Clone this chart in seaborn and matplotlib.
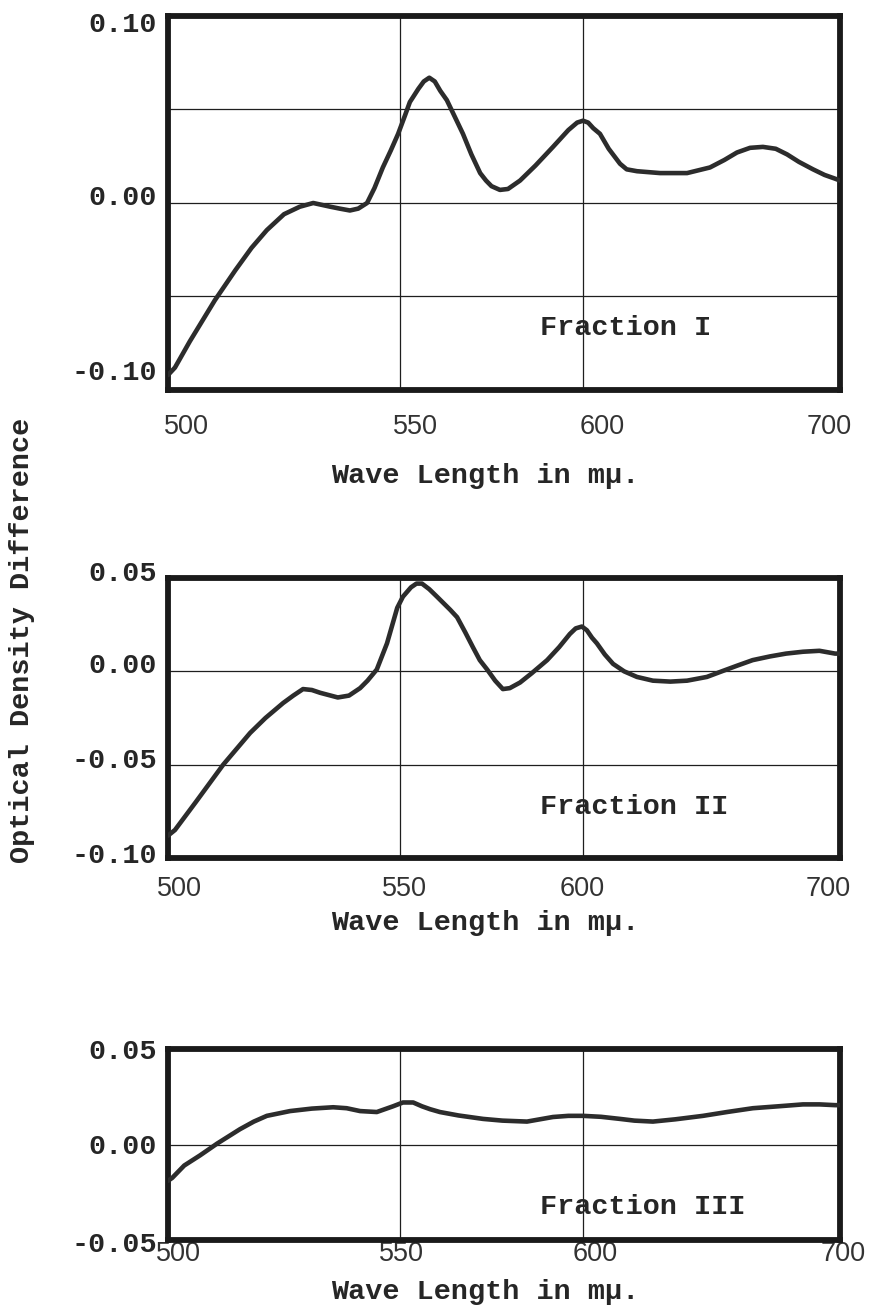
import numpy as np
import pandas as pd
import matplotlib
matplotlib.use("Agg")
import matplotlib.pyplot as plt
import seaborn as sns
from matplotlib.transforms import ScaledTranslation
from matplotlib.font_manager import FontProperties

# ---------------- data ----------------
wl1 = [500, 501.5, 504.7, 510.1, 514.5, 518, 521.3, 525, 528.4, 531.3, 535, 537, 539.2,
       541, 542.9, 544.5, 546.3, 548, 549.6, 551.4, 552.7, 555, 556.5, 558, 559.5, 561,
       562.8, 565, 567.2, 569.5, 571.9, 573.5, 575, 577.3, 579.5, 582.8, 587, 591.8, 596,
       598.4, 600, 602, 604, 606.6, 610, 614.4, 617, 621, 630, 640.5, 649.4, 655, 659.9,
       665, 670, 675, 679.4, 684, 689.5, 694, 698.1, 700]
od1 = [-0.092, -0.088, -0.074, -0.052, -0.036, -0.024, -0.0145, -0.006, -0.002, 0.000,
       -0.002, -0.003, -0.004, -0.003, 0.000, 0.008, 0.019, 0.028, 0.037, 0.047, 0.054,
       0.061, 0.065, 0.067, 0.065, 0.060, 0.055, 0.046, 0.037, 0.026, 0.016, 0.012, 0.009,
       0.007, 0.0075, 0.012, 0.020, 0.030, 0.039, 0.043, 0.044, 0.043, 0.040, 0.037,
       0.029, 0.021, 0.018, 0.017, 0.016, 0.016, 0.019, 0.023, 0.027, 0.0295, 0.030,
       0.029, 0.026, 0.022, 0.018, 0.015, 0.013, 0.012]

wl2 = [500, 501.5, 506, 511.9, 517.7, 521, 524.8, 527, 529.1, 531, 532.8, 536.6, 539,
       541.4, 543, 545.0, 547.2, 549.4, 550.8, 553, 554.5, 556.0, 558, 560.1, 563.7, 565.6,
       567.8, 569.9, 571.8, 573.8, 576, 578.1, 580, 582.8, 586, 590.2, 593.5, 596.4, 598,
       599.7, 601.5, 603.5, 605.4, 608.5, 611.7, 616, 621.0, 627.2, 634, 640.5, 648.2,
       654, 659.9, 666, 672.8, 679, 685.6, 692, 698.1, 700]
od2 = [-0.088, -0.085, -0.070, -0.050, -0.033, -0.025, -0.017, -0.013, -0.0095, -0.010,
       -0.0115, -0.014, -0.013, -0.009, -0.005, 0.001, 0.015, 0.034, 0.040, 0.045, 0.047,
       0.047, 0.044, 0.040, 0.033, 0.029, 0.021, 0.013, 0.006, 0.001, -0.005, -0.0095,
       -0.009, -0.006, -0.001, 0.006, 0.013, 0.020, 0.023, 0.024, 0.022, 0.018, 0.015,
       0.009, 0.004, 0.000, -0.003, -0.005, -0.0055, -0.005, -0.003, 0.000, 0.003, 0.006,
       0.008, 0.0095, 0.0105, 0.011, 0.0095, 0.0095]

wl3 = [500, 500.9, 503.5, 506.9, 510.6, 515.5, 518.5, 521.3, 526.3, 531, 535.6, 538.5,
       541.4, 545.0, 548.5, 550.8, 553.6, 556, 558.2, 560.9, 566, 572.7, 578, 584.7, 591.8,
       596, 600, 607, 614.4, 620, 627.2, 636, 646.7, 656, 666.1, 676, 685.6, 692, 698.1,
       700]
od3 = [-0.019, -0.0175, -0.011, -0.0057, 0.0005, 0.008, 0.012, 0.015, 0.0175, 0.0188,
       0.0195, 0.019, 0.0175, 0.017, 0.020, 0.022, 0.022, 0.020, 0.0185, 0.017, 0.0152,
       0.0134, 0.0125, 0.012, 0.0144, 0.015, 0.015, 0.0145, 0.0134, 0.0125, 0.012,
       0.0132, 0.015, 0.017, 0.019, 0.020, 0.021, 0.021, 0.0206, 0.0206]

x_ticks = [500, 550, 600, 700]
x_tick_labels = ["500", "550", "600", "700"]
fraction_names = ["Fraction I", "Fraction II", "Fraction III"]
x_label = "Wave Length in m\u03bc."
y_label = "Optical Density Difference"

# non-uniform wavelength axis of the original drawing
KW = np.array([500.0, 550.0, 600.0, 700.0])
KP = np.array([0.0, 232.0, 415.0, 672.0])


def _pw(x, a, b):
    x = np.asarray(x, float)
    y = np.interp(x, a, b)
    lo = b[0] + (x - a[0]) * (b[1] - b[0]) / (a[1] - a[0])
    hi = b[-1] + (x - a[-1]) * (b[-1] - b[-2]) / (a[-1] - a[-2])
    return np.where(x < a[0], lo, np.where(x > a[-1], hi, y))


def fwd(x):
    return _pw(x, KW, KP)


def inv(x):
    return _pw(x, KP, KW)


# ---------------- style ----------------
sns.set_theme(style="white")
plt.rcParams["font.family"] = ["Liberation Mono", "DejaVu Sans"]
INK = "#262626"
MONO = dict(family=["Liberation Mono", "DejaVu Sans"], weight="bold", size=20.5, color=INK)

W, H = 873, 1310
fig = plt.figure(figsize=(W / 100, H / 100), dpi=100)
fig.patch.set_facecolor("white")

panels = [
    dict(top=16, bottom=390, wl=wl1, od=od1, ylim=(-0.10, 0.10),
         yt=[-0.10, -0.05, 0.0, 0.05, 0.10], ytl=["-0.10", "", "0.00", "", "0.10"],
         yshift=[20, 0, 8, 0, -6], xshift=[18, 15, 19, -11], xpad=17,
         xlab_y=476, frac_y=328),
    dict(top=578, bottom=858, wl=wl2, od=od2, ylim=(-0.10, 0.05),
         yt=[-0.10, -0.05, 0.0, 0.05], ytl=["-0.10", "-0.05", "0.00", "0.05"],
         yshift=[5, 7, 8, 7], xshift=[11, 4, -1, -12], xpad=13,
         xlab_y=923, frac_y=807),
    dict(top=1049, bottom=1240, wl=wl3, od=od3, ylim=(-0.05, 0.05),
         yt=[-0.05, 0.0, 0.05], ytl=["-0.05", "0.00", "0.05"],
         yshift=[-2, 1, 0], xshift=[10, 1, 12, 3], xpad=1,
         xlab_y=1292, frac_y=1207),
]

LEFT, RIGHT = 168, 840
for i, p in enumerate(panels):
    ax = fig.add_axes([LEFT / W, 1 - p["bottom"] / H, (RIGHT - LEFT) / W,
                       (p["bottom"] - p["top"]) / H])
    ax.set_facecolor("white")
    ax.set_xscale("function", functions=(fwd, inv))
    df = pd.DataFrame({"wl": p["wl"], "od": p["od"]})
    sns.lineplot(data=df, x="wl", y="od", ax=ax, color="#2c2c2c", linewidth=3.3,
                 sort=True, zorder=3, solid_joinstyle="round", solid_capstyle="round")
    ax.set_xlim(500, 700)
    ax.set_ylim(*p["ylim"])
    ax.set_xticks(x_ticks)
    ax.set_xticklabels(x_tick_labels)
    ax.set_yticks(p["yt"])
    ax.set_yticklabels(p["ytl"])
    ax.set_xlabel("")
    ax.set_ylabel("")
    ax.grid(True, color="#1e1e1e", linewidth=0.9)
    for s in ax.spines.values():
        s.set_visible(True)
        s.set_color("#1a1a1a")
        s.set_linewidth(4.2)
    ax.tick_params(axis="both", length=0)
    ax.tick_params(axis="y", pad=8)
    ax.tick_params(axis="x", pad=p["xpad"])
    for lab, dy in zip(ax.get_yticklabels(), p["yshift"]):
        lab.set_fontproperties(FontProperties(family="Liberation Mono", weight="bold",
                                              size=20.5))
        lab.set_color(INK)
        lab.set_transform(lab.get_transform() +
                          ScaledTranslation(0, dy / 100, fig.dpi_scale_trans))
    for lab, dx in zip(ax.get_xticklabels(), p["xshift"]):
        lab.set_fontproperties(FontProperties(family="Liberation Sans", size=19.5))
        lab.set_color("#333333")
        lab.set_transform(lab.get_transform() +
                          ScaledTranslation(dx / 100, 0, fig.dpi_scale_trans))
    ax.text((540 - LEFT) / (RIGHT - LEFT),
            (p["bottom"] - p["frac_y"]) / (p["bottom"] - p["top"]),
            fraction_names[i], transform=ax.transAxes, ha="left", va="center",
            zorder=4, **MONO)
    fig.text(485 / W, 1 - p["xlab_y"] / H, x_label, ha="center", va="center", **MONO)

fig.text(22 / W, 1 - 640 / H, y_label, rotation=90, ha="center", va="center", **MONO)

fig.savefig("out.png", dpi=100, facecolor="white")
